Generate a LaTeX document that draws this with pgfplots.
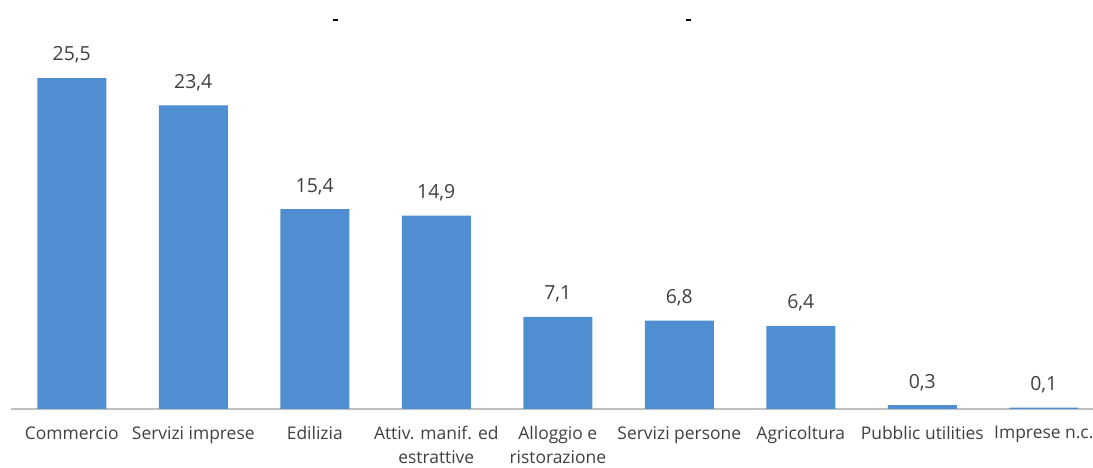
\documentclass[border=0pt]{standalone}
\usepackage{fontspec}
\setmainfont{Open Sans}
\usepackage{pgfplots}
\pgfplotsset{compat=1.18}
\definecolor{barblue}{HTML}{4F8ED0}
\definecolor{labelgray}{HTML}{404040}
\definecolor{axisgray}{HTML}{BFBFBF}
\begin{document}
\begin{tikzpicture}[x=1bp,y=1bp]
\begin{axis}[
  at={(11bp,59bp)}, anchor=south west,
  scale only axis,
  width=1082bp, height=389.4bp,
  xmin=-0.5, xmax=8.405,
  ymin=0, ymax=30,
  axis y line=none,
  axis x line*=bottom,
  x axis line style={draw=axisgray, line width=1.3bp, -},
  xtick=data,
  xticklabels={Commercio, Servizi imprese, Edilizia, {Attiv. manif. ed\\estrattive}, {Alloggio e\\ristorazione}, Servizi persone, Agricoltura, Pubblic utilities, Imprese n.c.},
  xticklabel style={align=center, text=labelgray, font=\fontsize{17.5}{24}\selectfont, yshift=-14bp},
  major tick length=0pt,
  ybar, bar width=69bp,
  nodes near coords,
  every node near coord/.append style={text=labelgray, font=\fontsize{19.5}{22}\selectfont, yshift=11bp},
  /pgf/number format/.cd, use comma, fixed, fixed zerofill, precision=1, assume math mode=true,
]
\addplot[fill=barblue, draw=none] coordinates {
  (0,25.5) (1,23.4) (2,15.4) (3,14.9) (4,7.1) (5,6.8) (6,6.4) (7,0.3) (8,0.1)
};
\end{axis}
% short dashes left over from the cropped heading
\fill[black] (333bp,447bp) rectangle (338bp,449bp);
\fill[black] (686bp,447bp) rectangle (691bp,449bp);
\pgfresetboundingbox
\useasboundingbox (0,0) rectangle (1093bp,468bp);
\end{tikzpicture}
\end{document}
